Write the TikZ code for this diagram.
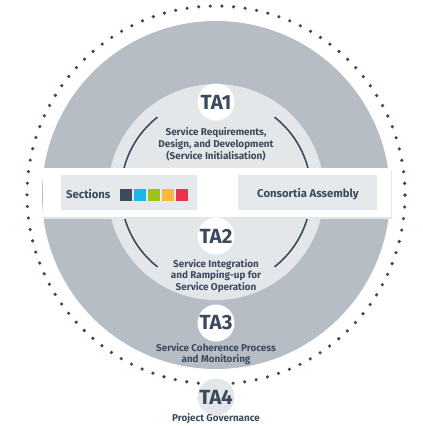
\documentclass[tikz,border=0pt]{standalone}
\usepackage{fontspec}
\setmainfont{Fira Sans}
\definecolor{outergray}{HTML}{B7BDC5}
\definecolor{innergray}{HTML}{E4E7EA}
\definecolor{boxgray}{HTML}{E6E9EC}
\definecolor{ink}{HTML}{3C4A5E}
\definecolor{sqdark}{HTML}{3F4A5E}
\definecolor{sqcyan}{HTML}{1BB6E8}
\definecolor{sqgreen}{HTML}{9CC31A}
\definecolor{sqorange}{HTML}{F9B93C}
\definecolor{sqred}{HTML}{E8334A}
\tikzset{
  tacircle/.style={circle, fill=white, minimum size=37pt, inner sep=0pt, text=ink,
    font=\fontsize{20.5}{20}\selectfont\bfseries},
  tadesc/.style={align=center, text=ink, inner sep=0pt,
    font=\fontsize{9.9}{11.8}\selectfont\bfseries},
  bandbox/.style={fill=boxgray, minimum width=136pt, minimum height=35pt, inner sep=0pt},
  bandtext/.style={text=ink, inner sep=0pt, font=\fontsize{11.3}{12}\selectfont\bfseries},
  colsq/.style={minimum size=11.5pt, inner sep=0pt},
  arcline/.style={draw=ink, line width=1.6pt},
}
\begin{document}
\begin{tikzpicture}[x=1pt,y=-1pt]
\useasboundingbox (0,0) rectangle (423,426);
% dotted outer ring
\draw[ink, line width=3.6pt, line cap=round, dash pattern=on 0pt off 11.64pt] (216,195) circle[radius=189pt];
% grey disc
\fill[outergray] (216,195) circle[radius=174pt];
% light disc
\fill[innergray] (216,192) circle[radius=108pt];
% dark arcs
\draw[arcline] (216,192) ++(128:95pt) arc[start angle=128, end angle=232, radius=95pt];
\draw[arcline] (216,192) ++(52:95pt) arc[start angle=52, end angle=-52, radius=95pt];
% white band
\fill[black!10] (44,169.5) rectangle (392,219);
\fill[white] (43,168) rectangle (391,217);
\node[bandbox] (secbox) at (129,192.5) {};
\node[bandbox, minimum width=139pt] (conbox) at (307.5,192.5) {};
\node[bandtext, anchor=west] (sections) at (66,194.5) {Sections};
\node[colsq, fill=sqdark]   (sq1) at (125.75,195) {};
\node[colsq, fill=sqcyan]   (sq2) at (139.75,195) {};
\node[colsq, fill=sqgreen]  (sq3) at (153.75,195) {};
\node[colsq, fill=sqorange] (sq4) at (167.75,195) {};
\node[colsq, fill=sqred]    (sq5) at (181.75,195) {};
\node[bandtext] (consortia) at (308,194.5) {Consortia Assembly};
% TA circles and descriptions
\node[tacircle] (ta1) at (216,102) {TA1};
\node[tadesc] (ta1d) at (216,144.5) {Service Requirements,\\Design, and Development\\(Service Initialisation)};
\node[tacircle] (ta2) at (216,236) {TA2};
\node[tadesc] (ta2d) at (216,276) {Service Integration\\and Ramping-up for\\Service Operation};
\node[tacircle] (ta3) at (216,323) {TA3};
\node[tadesc] (ta3d) at (216,354) {Service Coherence Process\\and Monitoring};
\node[tacircle, fill=innergray] (ta4) at (216,397) {TA4};
\node[tadesc] (ta4d) at (216,418.5) {Project Governance};
\end{tikzpicture}
\end{document}
